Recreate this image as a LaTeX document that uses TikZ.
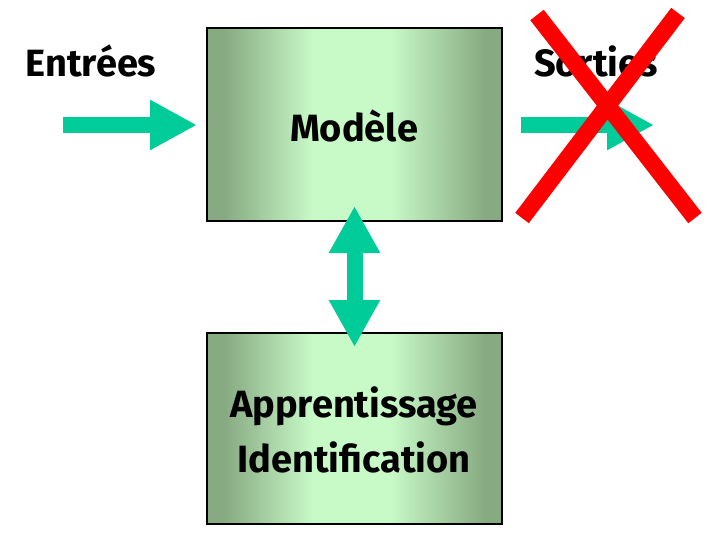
\documentclass[tikz,border=0pt]{standalone}
\usepackage{fontspec}
\setmainfont{Fira Sans}
\usetikzlibrary{arrows.meta}

\definecolor{flowgreen}{RGB}{0,204,153}
\definecolor{boxdark}{RGB}{136,170,130}
\definecolor{boxlight}{RGB}{200,250,200}
\definecolor{crossred}{RGB}{255,0,0}

% green box fill: dark at both sides, pale in the middle
% (TikZ maps the box onto the middle 25bp--75bp of the shading)
\pgfdeclarehorizontalshading{boxshade}{100bp}{%
  color(0bp)=(boxdark); color(28bp)=(boxdark); color(43bp)=(boxlight);
  color(56bp)=(boxlight); color(72bp)=(boxdark); color(100bp)=(boxdark)}

\tikzset{
  blockbox/.style={draw=black, line width=2pt, shading=boxshade,
    minimum width=295pt, inner sep=0pt, align=center},
  caption/.style={font=\bfseries\fontsize{38}{55}\selectfont, inner sep=0pt},
  flow/.style={draw=flowgreen, line width=16pt,
    -{Triangle[length=47pt,width=47pt,fill=flowgreen]}},
  flowboth/.style={draw=flowgreen, line width=16pt,
    {Triangle[length=47pt,width=48pt,fill=flowgreen]}-{Triangle[length=47pt,width=48pt,fill=flowgreen]}},
  strike/.style={draw=crossred, line width=17pt, line cap=butt}
}

\begin{document}
\begin{tikzpicture}[x=1pt, y=-1pt]
  \useasboundingbox (0,0) rectangle (712,535);

  % the two blocks
  \node[blockbox, minimum height=193pt] (model) at (354.5,124.5) {};
  \node[blockbox, minimum height=191pt] (learn) at (354.5,428.5) {};

  \node[caption] (modeltxt) at (354,126) {Modèle};
  \node[caption, align=center] (learntxt) at (354,430)
    {Apprentissage\\Identification};

  % inputs / outputs
  \node[caption] (inlbl) at (91,61) {Entrées};
  \node[caption] (outlbl) at (596,61) {Sorties};

  \coordinate (instart) at (63,125);
  \coordinate (inend) at (197,125);
  \coordinate (outstart) at (521,125);
  \coordinate (outend) at (654,125);

  \draw[flow] (instart) -- (inend);
  \draw[flow] (outstart) -- (outend);

  % link between the blocks
  \draw[flowboth] ([yshift=16pt]model.south) -- ([yshift=-15pt]learn.north);

  % crossed-out outputs
  \coordinate (xa) at (537,15);
  \coordinate (xb) at (695,218);
  \coordinate (xc) at (678,13);
  \coordinate (xd) at (522,218);
  \draw[strike] (xa) -- (xb);
  \draw[strike] (xc) -- (xd);
\end{tikzpicture}
\end{document}
